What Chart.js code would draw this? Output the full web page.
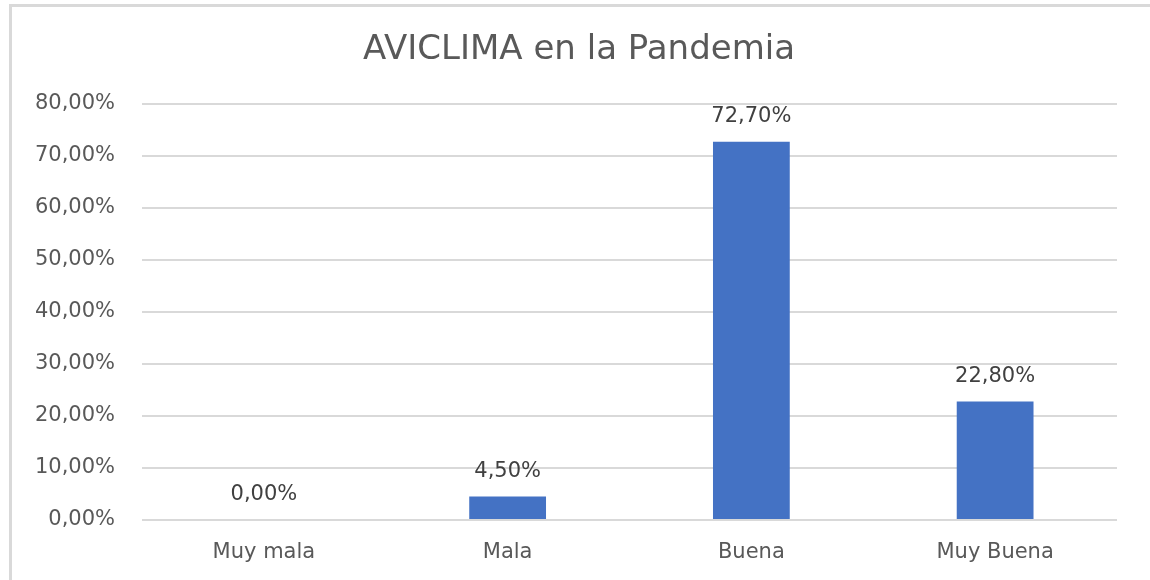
<!DOCTYPE html>
<html>
<head>
<meta charset="utf-8">
<script src="https://cdn.jsdelivr.net/npm/chart.js@4.4.0/dist/chart.umd.min.js"></script>
<style>
  html, body { margin: 0; padding: 0; background: #fff; }
  #wrap { position: relative; width: 1150px; height: 580px; }
  #frame { position: absolute; left: 9px; top: 4px; width: 1150px; height: 600px;
           border-left: 3px solid #d9d9d9; border-top: 3px solid #d9d9d9; box-sizing: border-box; pointer-events: none; }
  canvas { position: absolute; left: 0; top: 0; }
</style>
</head>
<body>
<div id="wrap">
  <canvas id="c" width="1150" height="580"></canvas>
  <div id="frame"></div>
</div>
<script>
const categories = ["Muy mala", "Mala", "Buena", "Muy Buena"];
const values = [0.0, 4.5, 72.7, 22.8];
const yTicks = [0, 10, 20, 30, 40, 50, 60, 70, 80];
const titleText = "AVICLIMA en la Pandemia";

const FONT = "'DejaVu Sans', sans-serif";
const fmt = v => v.toFixed(2).replace('.', ',') + '%';

const dataLabels = {
  id: 'dataLabels',
  afterDatasetsDraw(chart) {
    const ctx = chart.ctx;
    const meta = chart.getDatasetMeta(0);
    ctx.save();
    ctx.font = "21px " + FONT;
    ctx.fillStyle = '#404040';
    ctx.textAlign = 'center';
    ctx.textBaseline = 'middle';
    meta.data.forEach((bar, i) => {
      ctx.fillText(fmt(values[i]), bar.x, bar.y - 25);
    });
    ctx.restore();
  }
};

new Chart(document.getElementById('c'), {
  type: 'bar',
  data: {
    labels: categories,
    datasets: [{
      data: values,
      backgroundColor: '#4472C4',
      borderWidth: 0,
      barPercentage: 0.315,
      categoryPercentage: 1.0
    }]
  },
  options: {
    responsive: false,
    animation: false,
    devicePixelRatio: 1,
    layout: { padding: { left: 8, right: 0, top: 0, bottom: 0 } },
    plugins: {
      legend: { display: false },
      tooltip: { enabled: false },
      title: {
        display: true,
        text: titleText,
        color: '#595959',
        font: { family: FONT, size: 34, weight: 'normal' },
        padding: { top: 30, bottom: 33 }
      }
    },
    scales: {
      x: {
        grid: { display: false, drawTicks: false },
        border: { display: false },
        ticks: { color: '#595959', font: { family: FONT, size: 21 }, padding: 20 },
        afterFit(scale) { scale.height = 60; }
      },
      y: {
        min: 0, max: 80,
        afterBuildTicks(scale) { scale.ticks = yTicks.map(v => ({ value: v })); },
        grid: { color: '#d9d9d9', lineWidth: 2, drawTicks: false },
        border: { display: false },
        ticks: {
          color: '#595959',
          font: { family: FONT, size: 21 },
          padding: 27,
          callback: v => fmt(v)
        },
        afterFit(scale) { scale.width = 134; }
      },
      yR: {
        position: 'right',
        display: true,
        grid: { display: false, drawTicks: false },
        border: { display: false },
        ticks: { display: false },
        afterFit(scale) { scale.width = 33; }
      }
    }
  },
  plugins: [dataLabels]
});
</script>
</body>
</html>
